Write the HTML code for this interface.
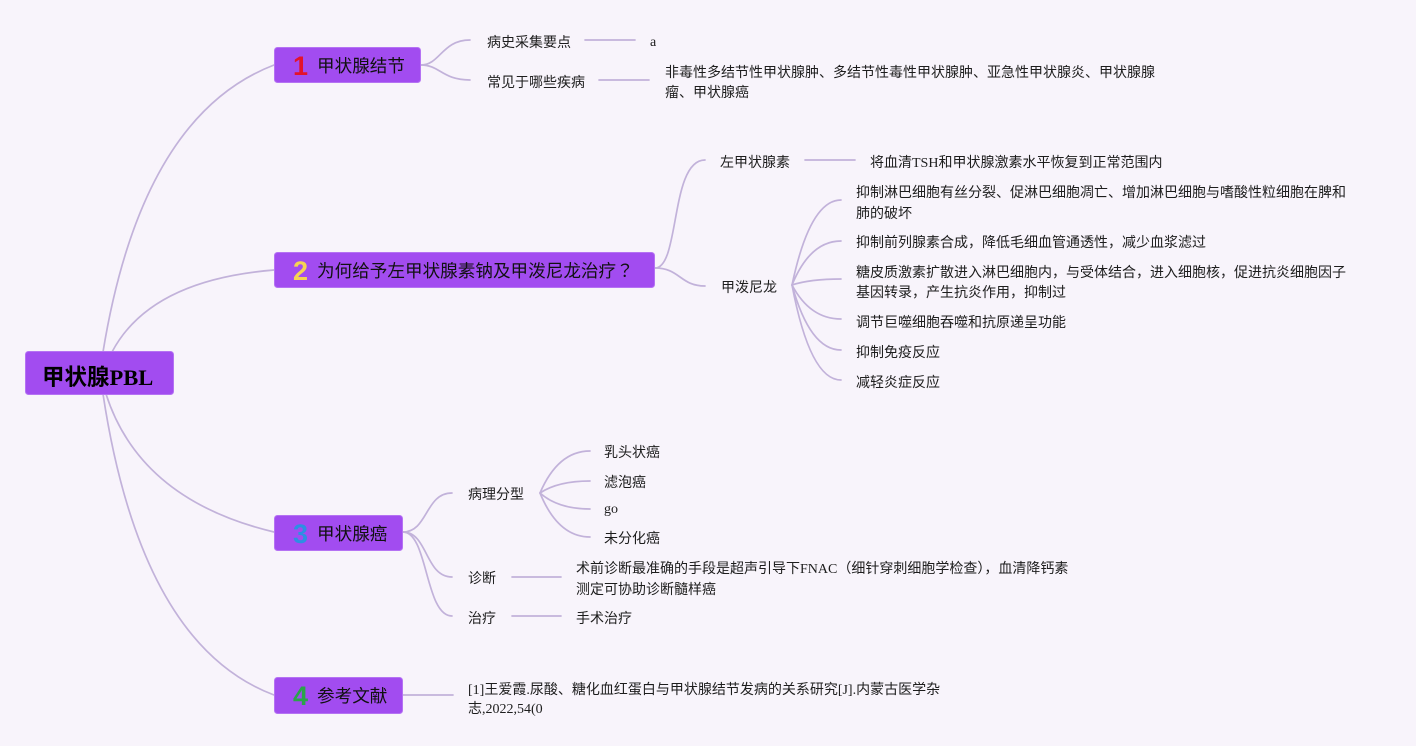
<!DOCTYPE html>
<html>
<head>
<meta charset="utf-8">
<style>
  html,body{margin:0;padding:0;}
  body{width:1416px;height:746px;background:#f8f4fb;position:relative;overflow:hidden;
    font-family:"Liberation Serif","Noto Sans CJK SC",serif;color:#1d1d1d;}
  svg{position:absolute;left:0;top:0;}
  .t{position:absolute;font-size:14px;line-height:20px;white-space:nowrap;}
  .bt{position:absolute;font-size:17.6px;line-height:24px;white-space:nowrap;color:#111;
    font-family:"Noto Sans CJK SC","Liberation Sans",sans-serif;}
  .num{position:absolute;font-family:"Liberation Sans","DejaVu Sans",sans-serif;font-weight:bold;
    font-size:27px;line-height:30px;white-space:nowrap;}
</style>
</head>
<body>
<svg width="1416" height="746" viewBox="0 0 1416 746">
  <g fill="none" stroke="#c2b2da" stroke-width="1.7" stroke-linecap="round">
    <path d="M103 352 Q141.5 116 274 65"/>
    <path d="M112 352 Q150 280 274 270"/>
    <path d="M106 394 Q140 500 274 532"/>
    <path d="M103 394 Q141 645 274 695"/>
    <path d="M421 65 C440 65 442 40 470 40"/>
    <path d="M421 65 C440 65 442 80 470 80"/>
    <path d="M585 40 L635 40"/>
    <path d="M599 80 L649 80"/>
    <path d="M655 268 C680 268 670 160 705 160"/>
    <path d="M655 268 C680 268 680 286 705 286"/>
    <path d="M805 160 L855 160"/>
    <path d="M792 285 Q810 200 841 200"/>
    <path d="M792 285 Q810 241 841 241"/>
    <path d="M792 285 Q810 279 841 279"/>
    <path d="M792 285 Q810 319 841 319"/>
    <path d="M792 285 Q810 350 841 350"/>
    <path d="M792 285 Q810 380 841 380"/>
    <path d="M403 532 C428 532 425 493 452 493"/>
    <path d="M403 532 C428 532 425 577 452 577"/>
    <path d="M403 532 C428 532 425 616 452 616"/>
    <path d="M540 493 Q558 451 590 451"/>
    <path d="M540 493 Q558 481 590 481"/>
    <path d="M540 493 Q558 509 590 509"/>
    <path d="M540 493 Q558 537 590 537"/>
    <path d="M512 577 L561 577"/>
    <path d="M512 616 L561 616"/>
    <path d="M403 695 L453 695"/>
  </g>
  <g fill="#a24cf0" stroke="#b572f3" stroke-width="1">
    <rect x="25.5" y="351.5" width="148" height="43" rx="3"/>
    <rect x="274.5" y="47.5" width="146" height="35" rx="3"/>
    <rect x="274.5" y="252.5" width="380" height="35" rx="3"/>
    <rect x="274.5" y="515.5" width="128" height="35" rx="3"/>
    <rect x="274.5" y="677.5" width="128" height="36" rx="3"/>
  </g>
</svg>

<div style="position:absolute;left:42px;top:363px;font-size:22.5px;line-height:30px;font-weight:bold;color:#000;white-space:nowrap;font-family:'Liberation Serif','Noto Sans CJK SC',serif;">甲状腺PBL</div>

<div class="num" style="left:293px;top:51px;color:#e3132c;">1</div>
<div class="bt" style="left:317px;top:54px;">甲状腺结节</div>

<div class="num" style="left:293px;top:256px;color:#f5d453;">2</div>
<div class="bt" style="left:317px;top:259px;">为何给予左甲状腺素钠及甲泼尼龙治疗<span style="font-family:'Noto Sans CJK TC','Noto Sans CJK SC',sans-serif;">？</span></div>

<div class="num" style="left:293px;top:519px;color:#2c8fe3;">3</div>
<div class="bt" style="left:317px;top:522px;">甲状腺癌</div>

<div class="num" style="left:293px;top:681px;color:#2aa44a;">4</div>
<div class="bt" style="left:317px;top:684px;">参考文献</div>

<div class="t" style="left:487px;top:34px;">病史采集要点</div>
<div class="t" style="left:650px;top:33px;">a</div>
<div class="t" style="left:487px;top:74px;">常见于哪些疾病</div>
<div class="t" style="left:665px;top:64px;">非毒性多结节性甲状腺肿、多结节性毒性甲状腺肿、亚急性甲状腺炎、甲状腺腺<br>瘤、甲状腺癌</div>

<div class="t" style="left:720px;top:154px;">左甲状腺素</div>
<div class="t" style="left:870px;top:154px;">将血清TSH和甲状腺激素水平恢复到正常范围内</div>
<div class="t" style="left:721px;top:279px;">甲泼尼龙</div>
<div class="t" style="left:856px;top:183px;line-height:21px;">抑制淋巴细胞有丝分裂、促淋巴细胞凋亡、增加淋巴细胞与嗜酸性粒细胞在脾和<br>肺的破坏</div>
<div class="t" style="left:856px;top:234px;">抑制前列腺素合成，降低毛细血管通透性，减少血浆滤过</div>
<div class="t" style="left:856px;top:264px;">糖皮质激素扩散进入淋巴细胞内，与受体结合，进入细胞核，促进抗炎细胞因子<br>基因转录，产生抗炎作用，抑制过</div>
<div class="t" style="left:856px;top:314px;">调节巨噬细胞吞噬和抗原递呈功能</div>
<div class="t" style="left:856px;top:344px;">抑制免疫反应</div>
<div class="t" style="left:856px;top:374px;">减轻炎症反应</div>

<div class="t" style="left:468px;top:486px;">病理分型</div>
<div class="t" style="left:604px;top:444px;">乳头状癌</div>
<div class="t" style="left:604px;top:474px;">滤泡癌</div>
<div class="t" style="left:604px;top:500px;">go</div>
<div class="t" style="left:604px;top:530px;">未分化癌</div>
<div class="t" style="left:468px;top:570px;">诊断</div>
<div class="t" style="left:576px;top:559px;line-height:21px;">术前诊断最准确的手段是超声引导下FNAC（细针穿刺细胞学检查），血清降钙素<br>测定可协助诊断髓样癌</div>
<div class="t" style="left:468px;top:610px;">治疗</div>
<div class="t" style="left:576px;top:610px;">手术治疗</div>

<div class="t" style="left:468px;top:681px;line-height:19px;">[1]王爱霞.尿酸、糖化血红蛋白与甲状腺结节发病的关系研究[J].内蒙古医学杂<br>志,2022,54(0</div>
</body>
</html>
